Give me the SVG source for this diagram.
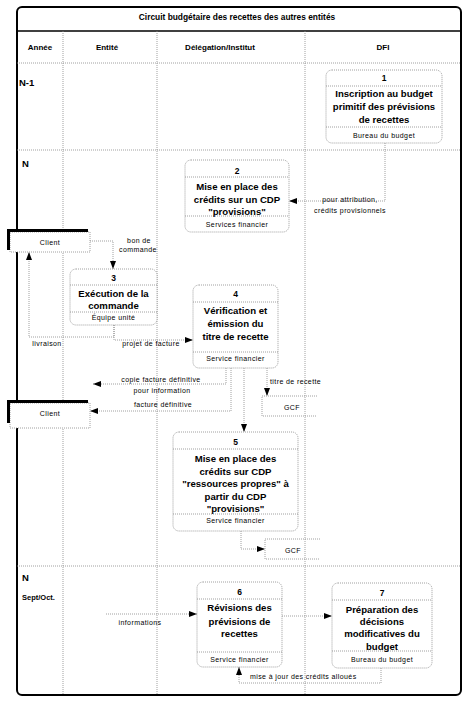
<svg xmlns="http://www.w3.org/2000/svg" width="469" height="703" viewBox="0 0 469 703">
<defs>
<marker id="arr" markerWidth="8" markerHeight="6" refX="8" refY="3" orient="auto" markerUnits="userSpaceOnUse">
<path d="M0,0 L8,3 L0,6 Z" fill="#000"/>
</marker>
<style>
text{font-family:"Liberation Sans",Arial,sans-serif;fill:#000}
.grid{stroke:#888;stroke-width:0.8;stroke-dasharray:1,1;fill:none}
.node{fill:#fff;stroke:#888;stroke-width:0.8;stroke-dasharray:1,1}
.sep{stroke:#888;stroke-width:0.8;stroke-dasharray:1,1}
.conn{fill:none;stroke:#888;stroke-width:0.8;stroke-dasharray:1,1}
.arrow{marker-end:url(#arr)}
.t{font-size:9.6px;font-weight:bold;text-anchor:middle}
.num{font-size:8.5px;font-weight:bold;text-anchor:middle}
.sm{font-size:7px;letter-spacing:0.4px;text-anchor:middle}
.lbl{font-size:7px;letter-spacing:0.4px}
.hdr{font-size:8px;font-weight:bold;text-anchor:middle}
.row{font-size:9.5px;font-weight:bold}
</style>
</defs>
<g id="frame">
<rect x="17" y="7" width="444" height="688" rx="5" fill="#fff" stroke="#000" stroke-width="2"/>
<line x1="17" y1="31" x2="461" y2="31" stroke="#000" stroke-width="1.5"/>
<text x="237" y="20" class="hdr" style="font-size:8.4px">Circuit budgétaire des recettes des autres entités</text>
<line x1="17" y1="63" x2="461" y2="63" class="grid"/>
<line x1="17" y1="150" x2="461" y2="150" class="grid"/>
<line x1="17" y1="566" x2="461" y2="566" class="grid"/>
<line x1="63" y1="31" x2="63" y2="695" class="grid"/>
<line x1="157" y1="31" x2="157" y2="695" class="grid"/>
<line x1="305" y1="31" x2="305" y2="695" class="grid"/>
<text x="40" y="50" class="hdr">Année</text>
<text x="107" y="50" class="hdr">Entité</text>
<text x="220" y="50" class="hdr">Délégation/Institut</text>
<text x="383" y="50" class="hdr">DFI</text>
<text x="19" y="86" class="row">N-1</text>
<text x="22" y="167" class="row">N</text>
<text x="22" y="581" class="row">N</text>
<text x="22" y="600" class="row" style="font-size:7.5px">Sept/Oct.</text>
</g>
<g id="connectors">
<path d="M385,143 V201 H289" class="conn arrow"/>
<path d="M90,241 H113 V269" class="conn arrow"/>
<path d="M114,325 V337 H29 V252" class="conn arrow"/>
<path d="M114,325 V340 H193" class="conn arrow"/>
<path d="M226,368 V384 H93" class="conn arrow"/>
<path d="M231,368 V411 H90" class="conn arrow"/>
<path d="M244,368 V432" class="conn arrow"/>
<path d="M267,368 V396" class="conn arrow"/>
<path d="M241,531 V549 H265" class="conn arrow"/>
<path d="M106,614 H197" class="conn arrow"/>
<path d="M282,616 H332" class="conn arrow"/>
<path d="M381,668 V683 H239 V667" class="conn arrow"/>
<text x="350" y="201.5" class="sm">pour attribution,</text>
<text x="350" y="212.5" class="sm">crédits provisionnels</text>
<text x="139" y="242.5" class="sm">bon de</text>
<text x="138" y="251.5" class="sm">commande</text>
<text x="47" y="345.5" class="sm">livraison</text>
<text x="151" y="345.5" class="sm">projet de facture</text>
<text x="161" y="381.5" class="sm">copie facture définitive</text>
<text x="162" y="392.5" class="sm">pour information</text>
<text x="163" y="406.5" class="sm">facture définitive</text>
<text x="270" y="383.5" class="lbl">titre de recette</text>
<text x="140" y="624.5" class="sm">informations</text>
<text x="250" y="678.5" class="lbl">mise à jour des crédits alloués</text>
</g>
<g id="node1">
<rect x="326" y="70" width="116" height="73" rx="6" class="node"/>
<line x1="326" y1="86" x2="442" y2="86" class="sep"/>
<line x1="326" y1="127" x2="442" y2="127" class="sep"/>
<text x="384" y="81" class="num">1</text>
<text x="384" y="97" class="t">Inscription au budget</text>
<text x="384" y="110" class="t">primitif des prévisions</text>
<text x="384" y="122.5" class="t">de recettes</text>
<text x="384" y="137.5" class="sm">Bureau du budget</text>
</g>
<g id="node2">
<rect x="185" y="160" width="104" height="72" rx="6" class="node"/>
<line x1="185" y1="177" x2="289" y2="177" class="sep"/>
<line x1="185" y1="216" x2="289" y2="216" class="sep"/>
<text x="237" y="174" class="num">2</text>
<text x="237" y="189.5" class="t">Mise en place des</text>
<text x="237" y="202.5" class="t">crédits sur un CDP</text>
<text x="237" y="215" class="t">"provisions"</text>
<text x="237" y="226.5" class="sm">Services financier</text>
</g>
<g id="client1">
<rect x="10" y="232" width="80" height="20" class="node"/>
<path d="M7,229 H88 V232 H10 V250 H7 Z" fill="#000"/>
<text x="50" y="244.5" class="sm">Client</text>
</g>
<g id="node3">
<rect x="70" y="269" width="87" height="56" rx="6" class="node"/>
<line x1="70" y1="285" x2="157" y2="285" class="sep"/>
<line x1="70" y1="312" x2="157" y2="312" class="sep"/>
<text x="113.5" y="281" class="num">3</text>
<text x="113.5" y="296.5" class="t">Exécution de la</text>
<text x="113.5" y="308.5" class="t">commande</text>
<text x="113.5" y="320" class="sm">Équipe unité</text>
</g>
<g id="node4">
<rect x="193" y="285" width="85" height="83" rx="6" class="node"/>
<line x1="193" y1="302" x2="278" y2="302" class="sep"/>
<line x1="193" y1="352" x2="278" y2="352" class="sep"/>
<text x="235.5" y="297" class="num">4</text>
<text x="235.5" y="313.5" class="t">Vérification et</text>
<text x="235.5" y="326.5" class="t">émission du</text>
<text x="235.5" y="339.5" class="t">titre de recette</text>
<text x="235.5" y="360.5" class="sm">Service financier</text>
</g>
<g id="client2">
<rect x="10" y="403" width="80" height="25" class="node"/>
<path d="M7,400 H88 V403 H10 V423 H7 Z" fill="#000"/>
<text x="50" y="415.5" class="sm">Client</text>
</g>
<g id="gcf1">
<path d="M317,396 H262 V416 H317" class="conn"/>
<text x="292" y="409.5" class="sm">GCF</text>
</g>
<g id="node5">
<rect x="173" y="432" width="125" height="99" rx="6" class="node"/>
<line x1="173" y1="449" x2="298" y2="449" class="sep"/>
<line x1="173" y1="514" x2="298" y2="514" class="sep"/>
<text x="235.5" y="445" class="num">5</text>
<text x="235.5" y="461.5" class="t">Mise en place des</text>
<text x="235.5" y="474.5" class="t">crédits sur CDP</text>
<text x="235.5" y="486.5" class="t">"ressources propres" à</text>
<text x="235.5" y="499.5" class="t">partir du CDP</text>
<text x="235.5" y="511.5" class="t">"provisions"</text>
<text x="235.5" y="522.5" class="sm">Service financier</text>
</g>
<g id="gcf2">
<path d="M320,539 H265 V559 H320" class="conn"/>
<text x="293" y="552.5" class="sm">GCF</text>
</g>
<g id="node6">
<rect x="197" y="582" width="85" height="85" rx="6" class="node"/>
<line x1="197" y1="599" x2="282" y2="599" class="sep"/>
<line x1="197" y1="652" x2="282" y2="652" class="sep"/>
<text x="239.5" y="595" class="num">6</text>
<text x="239.5" y="610.5" class="t">Révisions des</text>
<text x="239.5" y="624.5" class="t">prévisions de</text>
<text x="239.5" y="636.5" class="t">recettes</text>
<text x="239.5" y="661.5" class="sm">Service financier</text>
</g>
<g id="node7">
<rect x="332" y="583" width="100" height="85" rx="6" class="node"/>
<line x1="332" y1="600" x2="432" y2="600" class="sep"/>
<line x1="332" y1="651" x2="432" y2="651" class="sep"/>
<text x="382" y="596" class="num">7</text>
<text x="382" y="612.5" class="t">Préparation des</text>
<text x="382" y="624.5" class="t">décisions</text>
<text x="382" y="636.5" class="t">modificatives du</text>
<text x="382" y="649.5" class="t">budget</text>
<text x="382" y="661.5" class="sm">Bureau du budget</text>
</g>
</svg>
